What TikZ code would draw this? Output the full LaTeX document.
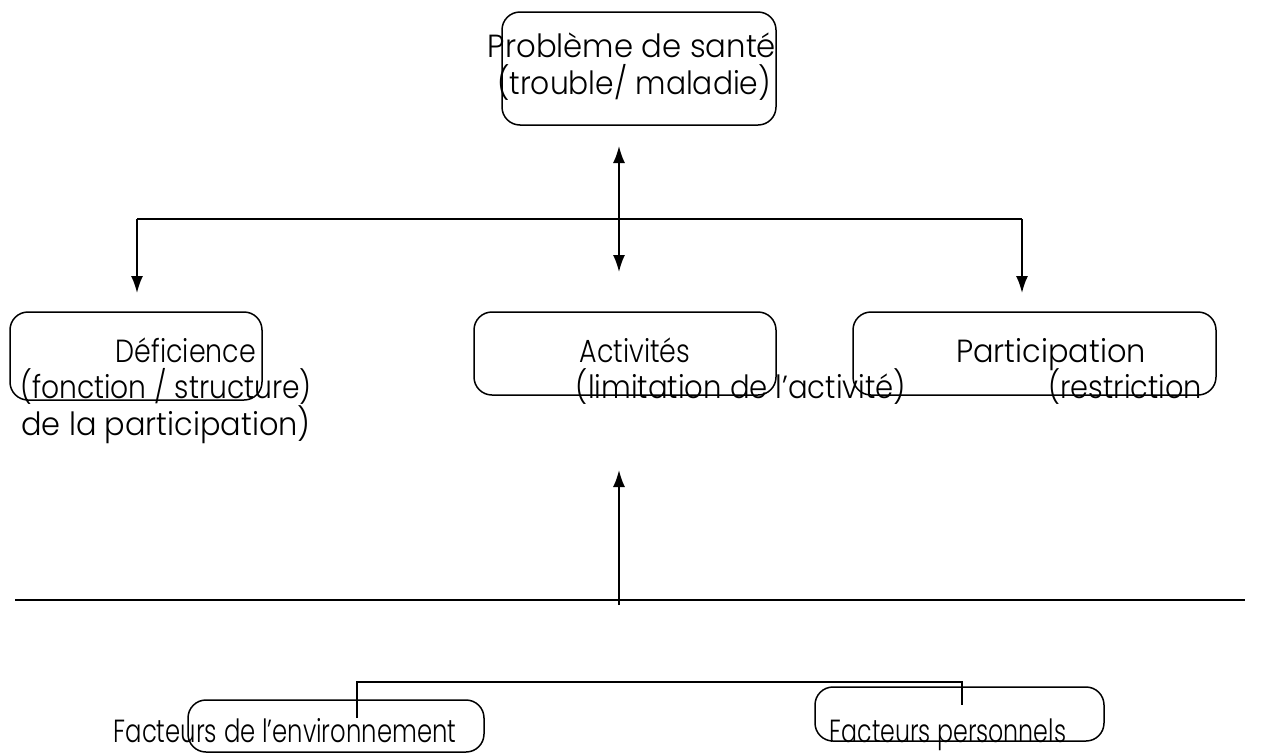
\documentclass[tikz,border=0pt]{standalone}
\usepackage{graphicx}
\usepackage{fontspec}
\setmainfont{Poppins Light}
\usetikzlibrary{arrows.meta}
\newcommand{\hsq}[2]{\scalebox{#1}[1]{#2}}
\tikzset{
  box/.style={draw, line width=1.5pt, rounded corners=18pt, inner sep=0pt},
  lbl/.style={anchor=base, inner sep=0pt, font=\fontsize{32}{32}\selectfont},
  conn/.style={line width=1.8pt},
  arr/.style={conn, -{Latex[length=17pt,width=12pt]}},
}
\begin{document}
\begin{tikzpicture}[x=1pt,y=-1pt]
\useasboundingbox (0,0) rectangle (1270,753);
% boxes
\node[box, minimum width=274pt, minimum height=113pt] (top) at (639,68.5) {};
\node[box, minimum width=252pt, minimum height=88pt] (def) at (136,356) {};
\node[box, minimum width=302pt, minimum height=83pt] (act) at (625,353.5) {};
\node[box, minimum width=363pt, minimum height=83pt] (par) at (1034.5,353.5) {};
\node[box, minimum width=296pt, minimum height=52pt] (env) at (336,726) {};
\node[box, minimum width=289pt, minimum height=54pt] (pers) at (959.5,714) {};
% texts
\node[lbl] (t1) at (632,57) {\hsq{0.96}{Problème de santé}};
\node[lbl] (t2) at (634,94) {\hsq{0.93}{(trouble/ maladie)}};
\node[lbl] (d1) at (186,362) {\hsq{0.84}{Déficience}};
\node[lbl] (d2) at (166,398) {\hsq{0.88}{(fonction / structure)}};
\node[lbl] (d3) at (166,435) {\hsq{0.95}{de la participation)}};
\node[lbl] (a1) at (635,362) {\hsq{0.84}{Activités}};
\node[lbl] (a2) at (741,398) {\hsq{0.91}{(limitation de l’activité)}};
\node[lbl] (p1) at (1051,362) {\hsq{0.95}{Participation}};
\node[lbl] (p2) at (1125,398) {\hsq{0.90}{(restriction}};
\node[lbl] (e1) at (285,742) {\hsq{0.76}{Facteurs de l’environnement}};
\node[lbl] (f1) at (948,742) {\hsq{0.74}{Facteurs personnels}};
% connectors
\coordinate (dt) at (619,146);
\coordinate (db) at (619,272);
\draw[conn, {Latex[length=17pt,width=12pt]}-{Latex[length=17pt,width=12pt]}] (dt) -- (db);
\coordinate (cL) at (137,219);
\coordinate (cR) at (1022,219);
\coordinate (tL) at (137,293);
\coordinate (tR) at (1022,293);
\draw[conn] (cL) -- (cR);
\draw[arr] (cL) -- (tL);
\draw[arr] (cR) -- (tR);
\coordinate (ub) at (619,605);
\coordinate (ut) at (619,470);
\draw[arr] (ub) -- (ut);
\coordinate (hl) at (15,600);
\coordinate (hr) at (1245,600);
\draw[line width=2.2pt] (hl) -- (hr);
\coordinate (bl) at (357,718);
\coordinate (bml) at (357,682);
\coordinate (bmr) at (962,682);
\coordinate (br) at (962,705);
\draw[conn] (bl) -- (bml) -- (bmr) -- (br);
\end{tikzpicture}
\end{document}
